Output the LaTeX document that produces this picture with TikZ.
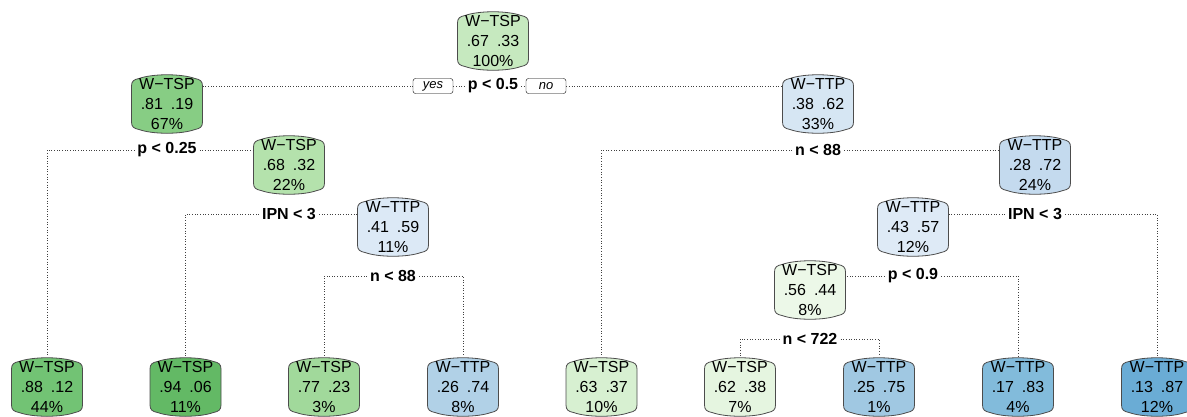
\documentclass[tikz,border=0pt]{standalone}
\usepackage{fontspec}
\setmainfont{Liberation Sans}
\usepackage{tikz}
\usetikzlibrary{backgrounds}
\definecolor{gn94}{RGB}{99,185,101}
\definecolor{gn88}{RGB}{114,195,116}
\definecolor{gn81}{RGB}{135,205,132}
\definecolor{gn77}{RGB}{161,217,155}
\definecolor{gn68}{RGB}{180,226,172}
\definecolor{gn67}{RGB}{198,233,191}
\definecolor{gn63}{RGB}{215,240,209}
\definecolor{gn62}{RGB}{229,245,224}
\definecolor{gn56}{RGB}{236,248,232}
\definecolor{bu57}{RGB}{222,234,246}
\definecolor{bu59}{RGB}{220,233,246}
\definecolor{bu62}{RGB}{214,230,243}
\definecolor{bu72}{RGB}{196,218,238}
\definecolor{bu74}{RGB}{177,209,231}
\definecolor{bu75}{RGB}{160,200,226}
\definecolor{bu83}{RGB}{130,187,219}
\definecolor{bu87}{RGB}{106,172,213}

\begin{document}
\begin{tikzpicture}[x=1pt,y=1pt]
\tikzset{tbox/.style={minimum width=71pt,minimum height=62pt,inner sep=0pt,align=center,font=\fontsize{16}{20}\selectfont},
cut/.style={font=\fontsize{16}{19}\selectfont\bfseries,inner sep=3pt},
yesno/.style={draw,rounded corners=2.5pt,font=\fontsize{13}{15}\selectfont\itshape,minimum width=40pt,minimum height=15pt,inner sep=0pt},
edge/.style={dotted,line width=0.65pt,black!75}}
\useasboundingbox (0,0) rectangle (1187,-416);
\clip (0,0) rectangle (1187,-416);

\node[tbox] (tsp67) at (493,-41) {W−TSP\\.67\hspace{8pt}.33\\100\%};
\node[tbox] (tsp81) at (167,-104) {W−TSP\\.81\hspace{8pt}.19\\67\%};
\node[tbox] (ttp62) at (818,-104) {W−TTP\\.38\hspace{8pt}.62\\33\%};
\node[tbox] (tsp68) at (289,-165) {W−TSP\\.68\hspace{8pt}.32\\22\%};
\node[tbox] (ttp72) at (1035,-165) {W−TTP\\.28\hspace{8pt}.72\\24\%};
\node[tbox] (ttp59) at (393,-227) {W−TTP\\.41\hspace{8pt}.59\\11\%};
\node[tbox] (ttp57) at (913,-227) {W−TTP\\.43\hspace{8pt}.57\\12\%};
\node[tbox] (tsp56) at (810,-290) {W−TSP\\.56\hspace{8pt}.44\\8\%};
% leaves
\node[tbox] (tsp88) at (47,-387) {W−TSP\\.88\hspace{8pt}.12\\44\%};
\node[tbox] (tsp94) at (185.5,-387) {W−TSP\\.94\hspace{8pt}.06\\11\%};
\node[tbox] (tsp77) at (324,-387) {W−TSP\\.77\hspace{8pt}.23\\3\%};
\node[tbox] (ttp74) at (463,-387) {W−TTP\\.26\hspace{8pt}.74\\8\%};
\node[tbox] (tsp63) at (601.5,-387) {W−TSP\\.63\hspace{8pt}.37\\10\%};
\node[tbox] (tsp62) at (740,-387) {W−TSP\\.62\hspace{8pt}.38\\7\%};
\node[tbox] (ttp75) at (879,-387) {W−TTP\\.25\hspace{8pt}.75\\1\%};
\node[tbox] (ttp83) at (1018,-387) {W−TTP\\.17\hspace{8pt}.83\\4\%};
\node[tbox] (ttp87) at (1157,-387) {W−TTP\\.13\hspace{8pt}.87\\12\%};

\node[cut] (cutp05) at (493,-86) {p < 0.5};
\node[yesno] (yes) at (433,-86) {yes};
\node[yesno] (no) at (546,-86) {no};
\node[cut] (cutp025) at (167,-150) {p < 0.25};
\node[cut] (cutnr) at (818,-150) {n < 88};
\node[cut] (cutipnl) at (289,-214) {IPN < 3};
\node[cut] (cutipnr) at (1035,-214) {IPN < 3};
\node[cut] (cutnl) at (393,-276) {n < 88};
\node[cut] (cutp09) at (913,-276) {p < 0.9};
\node[cut] (cutn722) at (810,-339) {n < 722};

\draw[edge] (cutp05.west) -- (yes.east) (yes.west) -- (yes.west -| tsp81.east);
\draw[edge] (cutp05.east) -- (no.west) (no.east) -- (no.east -| ttp62.west);
\draw[edge] (cutp025.west) -| (tsp88.north) (cutp025.east) -- (cutp025.east -| tsp68.west);
\draw[edge] (cutipnl.west) -| (tsp94.north) (cutipnl.east) -- (cutipnl.east -| ttp59.west);
\draw[edge] (cutnl.west) -| (tsp77.north) (cutnl.east) -| (ttp74.north);
\draw[edge] (cutnr.west) -| (tsp63.north) (cutnr.east) -- (cutnr.east -| ttp72.west);
\draw[edge] (cutipnr.west) -- (cutipnr.west -| ttp57.east) (cutipnr.east) -| (ttp87.north);
\draw[edge] (cutp09.west) -- (cutp09.west -| tsp56.east) (cutp09.east) -| (ttp83.north);
\draw[edge] (cutn722.west) -| (tsp62.north) (cutn722.east) -| (ttp75.north);

\begin{scope}[on background layer]
\foreach \n/\c in {tsp67/gn67,tsp81/gn81,ttp62/bu62,tsp68/gn68,ttp72/bu72,ttp59/bu59,ttp57/bu57,tsp56/gn56,tsp88/gn88,tsp94/gn94,tsp77/gn77,ttp74/bu74,tsp63/gn63,tsp62/gn62,ttp75/bu75,ttp83/bu83,ttp87/bu87}{
\filldraw[fill=\c,draw=black!70,line width=0.8pt,shift={(\n.center)}] (-35.5,-18) -- (-35.5,18) .. controls (-35.5,23) and (-33,24.5) .. (-28,25.5) .. controls (-14,30.5) and (14,30.5) .. (28,25.5) .. controls (33,24.5) and (35.5,23) .. (35.5,18) -- (35.5,-18) .. controls (35.5,-23) and (33,-24.5) .. (28,-25.5) .. controls (14,-30.5) and (-14,-30.5) .. (-28,-25.5) .. controls (-33,-24.5) and (-35.5,-23) .. (-35.5,-18) -- cycle;
}
\end{scope}
\end{tikzpicture}
\end{document}
